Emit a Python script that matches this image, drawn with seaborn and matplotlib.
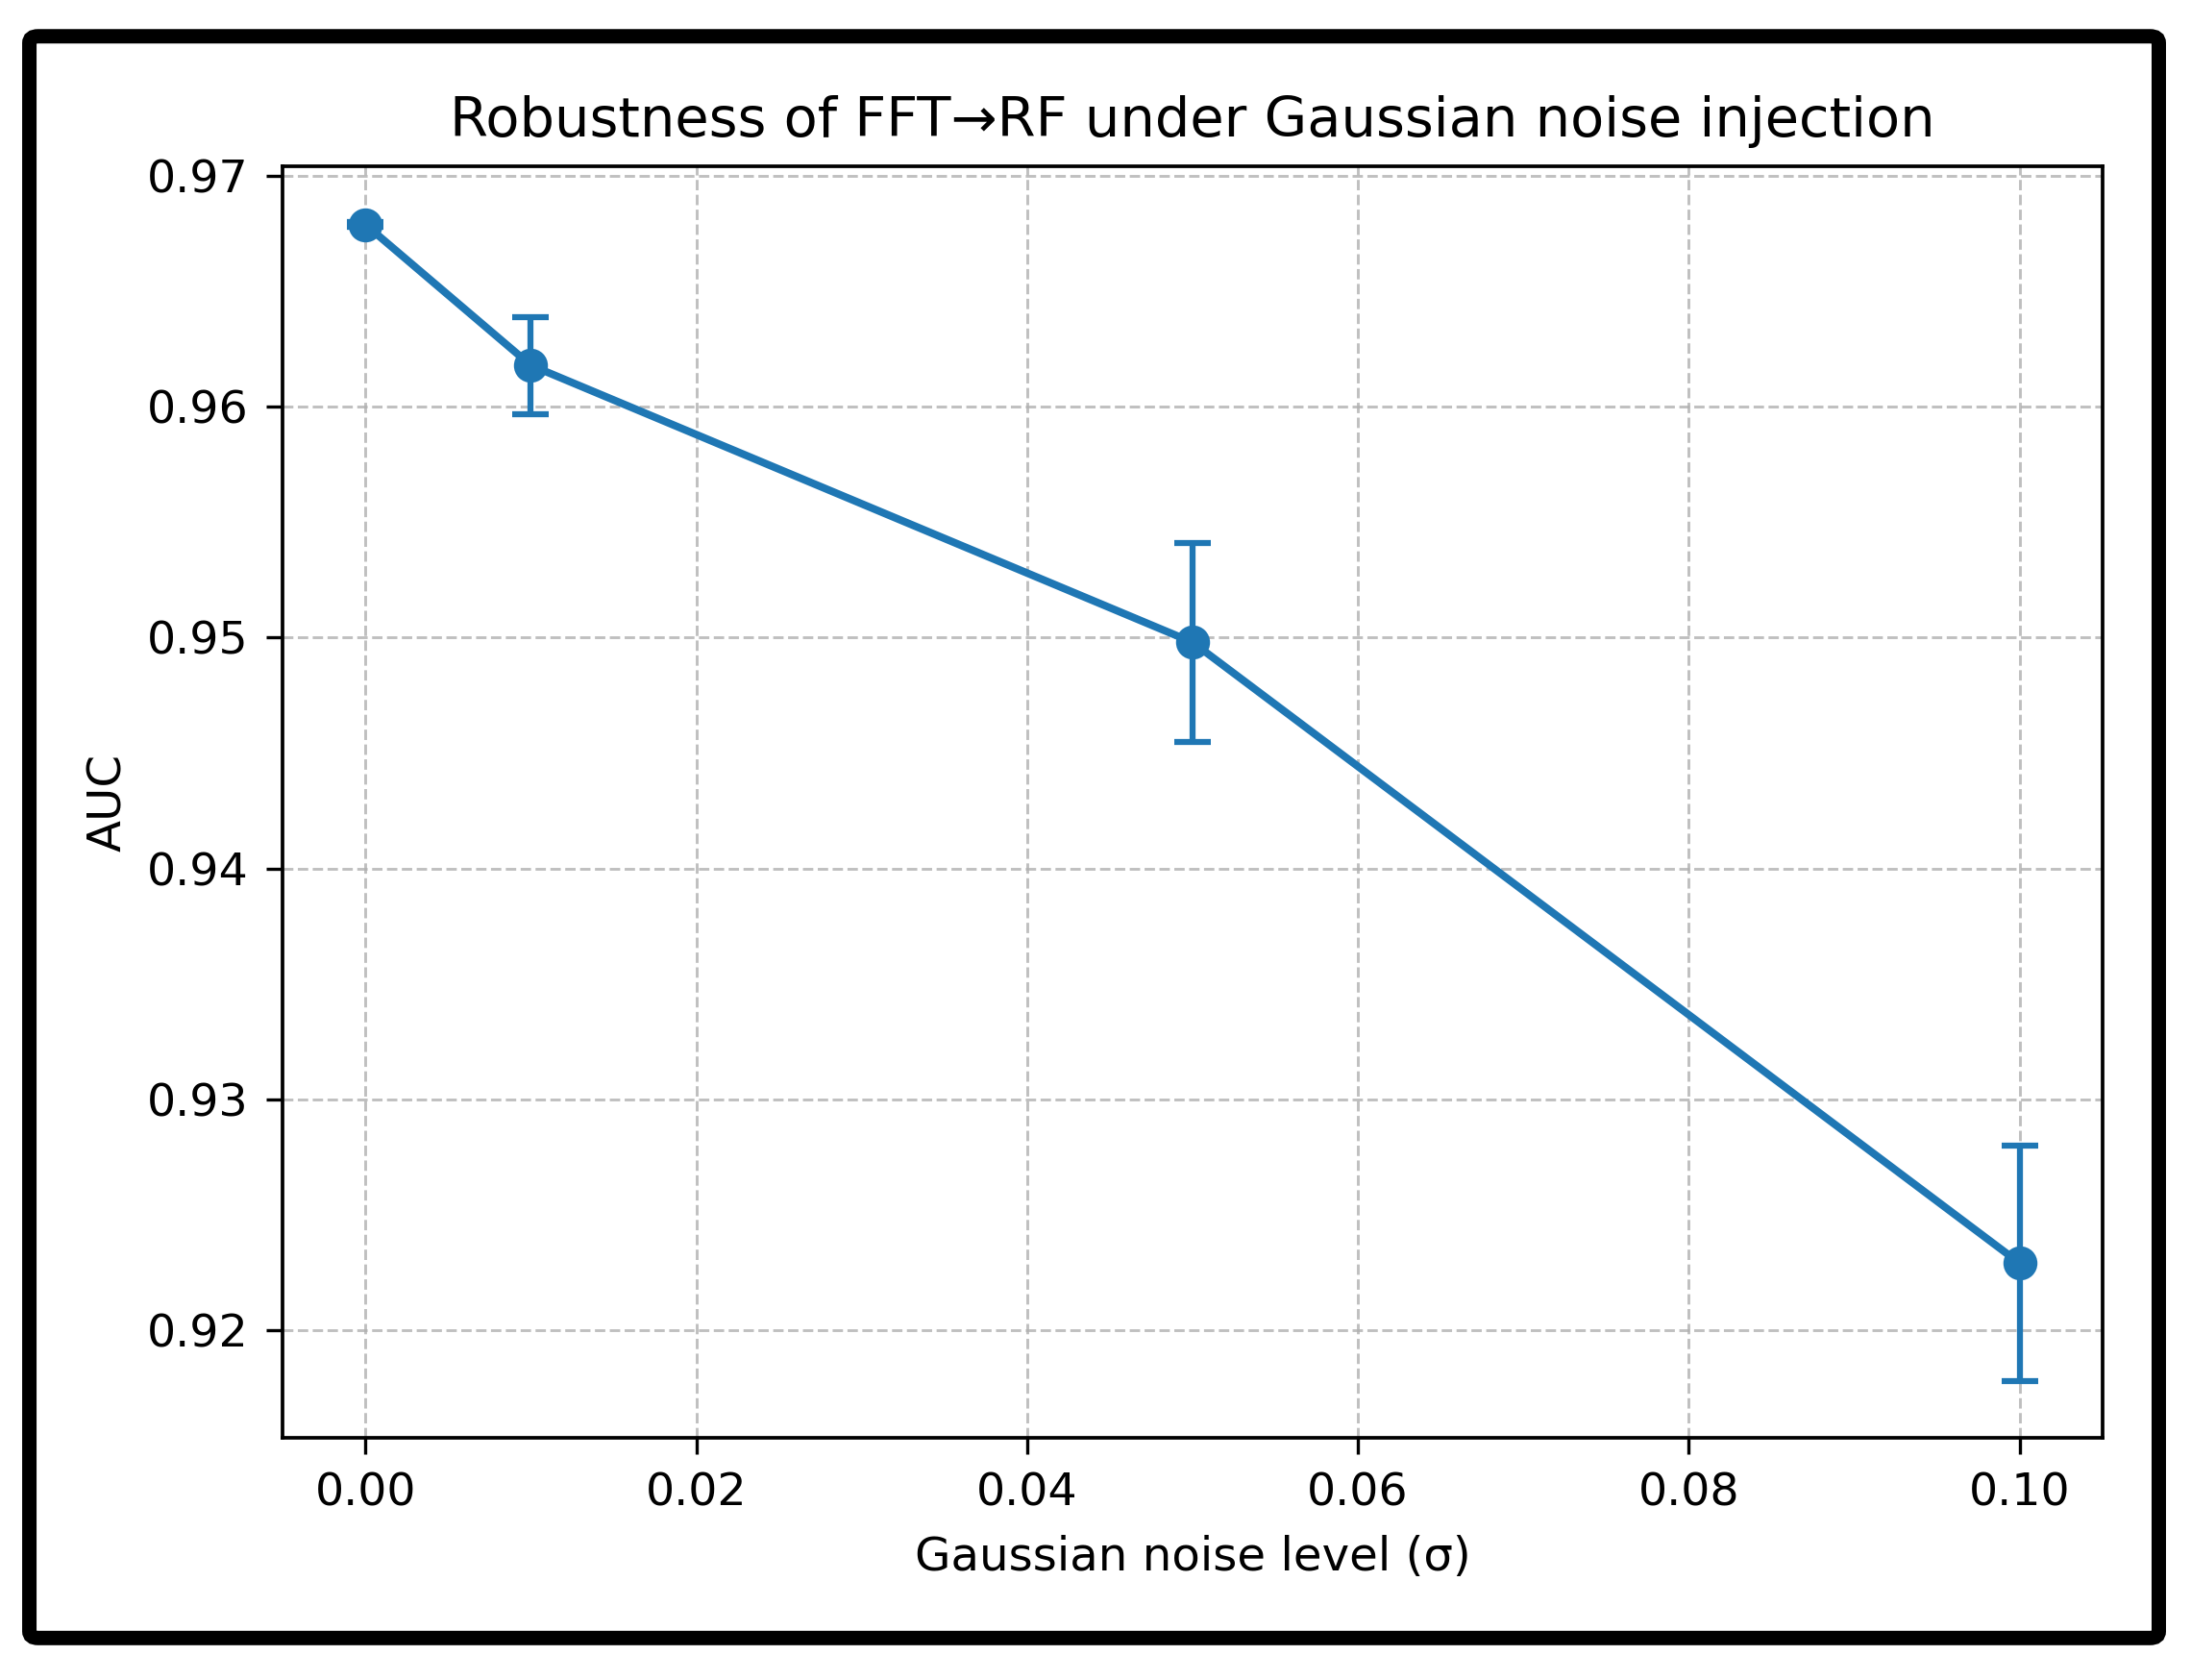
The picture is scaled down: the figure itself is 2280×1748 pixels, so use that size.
import numpy as np
import pandas as pd
import matplotlib
matplotlib.use("Agg")
import matplotlib.pyplot as plt
import seaborn as sns
from matplotlib.patches import FancyBboxPatch

# data
noise_levels = [0.00, 0.01, 0.05, 0.10]
auc_mean = [0.9679, 0.9618, 0.9498, 0.9229]
auc_err = [0.0001, 0.0021, 0.0043, 0.0051]

sns.set_style("ticks")
plt.rcParams['font.family'] = ['DejaVu Sans']
plt.rcParams['text.color'] = 'black'
plt.rcParams['axes.labelcolor'] = 'black'

df = pd.DataFrame({'sigma': noise_levels, 'auc': auc_mean, 'err': auc_err})

fig = plt.figure(figsize=(7.6, 5.8267), dpi=300)
ax = fig.add_axes([0.129, 0.1442, 0.8306, 0.7568])

color = '#1f77b4'
sns.lineplot(data=df, x='sigma', y='auc', ax=ax, color=color, linewidth=1.9,
             marker='o', markersize=8.5, markeredgewidth=0, zorder=3)
ax.errorbar(df['sigma'], df['auc'], yerr=df['err'], fmt='none', ecolor=color,
            elinewidth=1.5, capsize=4.5, capthick=1.5, zorder=3)

ax.set_xlim(-0.005, 0.105)
ax.set_ylim(0.91534, 0.97042)
ax.set_xticks([0.00, 0.02, 0.04, 0.06, 0.08, 0.10])
ax.set_yticks([0.92, 0.93, 0.94, 0.95, 0.96, 0.97])
ax.set_xticklabels([f'{v:.2f}' for v in ax.get_xticks()])
ax.set_yticklabels([f'{v:.2f}' for v in ax.get_yticks()])

ax.grid(True, linestyle='--', color='#b0b0b0', alpha=0.8, linewidth=0.7)
ax.tick_params(labelsize=11.4, length=4, width=0.8, colors='black', pad=4.5)
for s in ax.spines.values():
    s.set_color('black')
    s.set_linewidth(0.9)

ax.set_title('Robustness of FFT\u2192RF under Gaussian noise injection',
             fontsize=13.8, pad=7.5, color='black')
ax.set_xlabel('Gaussian noise level (\u03c3)', fontsize=11.6, labelpad=5)
ax.set_ylabel('AUC', fontsize=11.6, labelpad=4)

# black rounded frame around the whole figure
frame = FancyBboxPatch((0.0134, 0.0250), 0.9719, 0.9534,
                       boxstyle='round,pad=0,rounding_size=0.004',
                       transform=fig.transFigure, fill=False,
                       edgecolor='black', linewidth=3.6, zorder=10)
fig.patches.append(frame)

plt.savefig('out.png', dpi=300, facecolor='white')
